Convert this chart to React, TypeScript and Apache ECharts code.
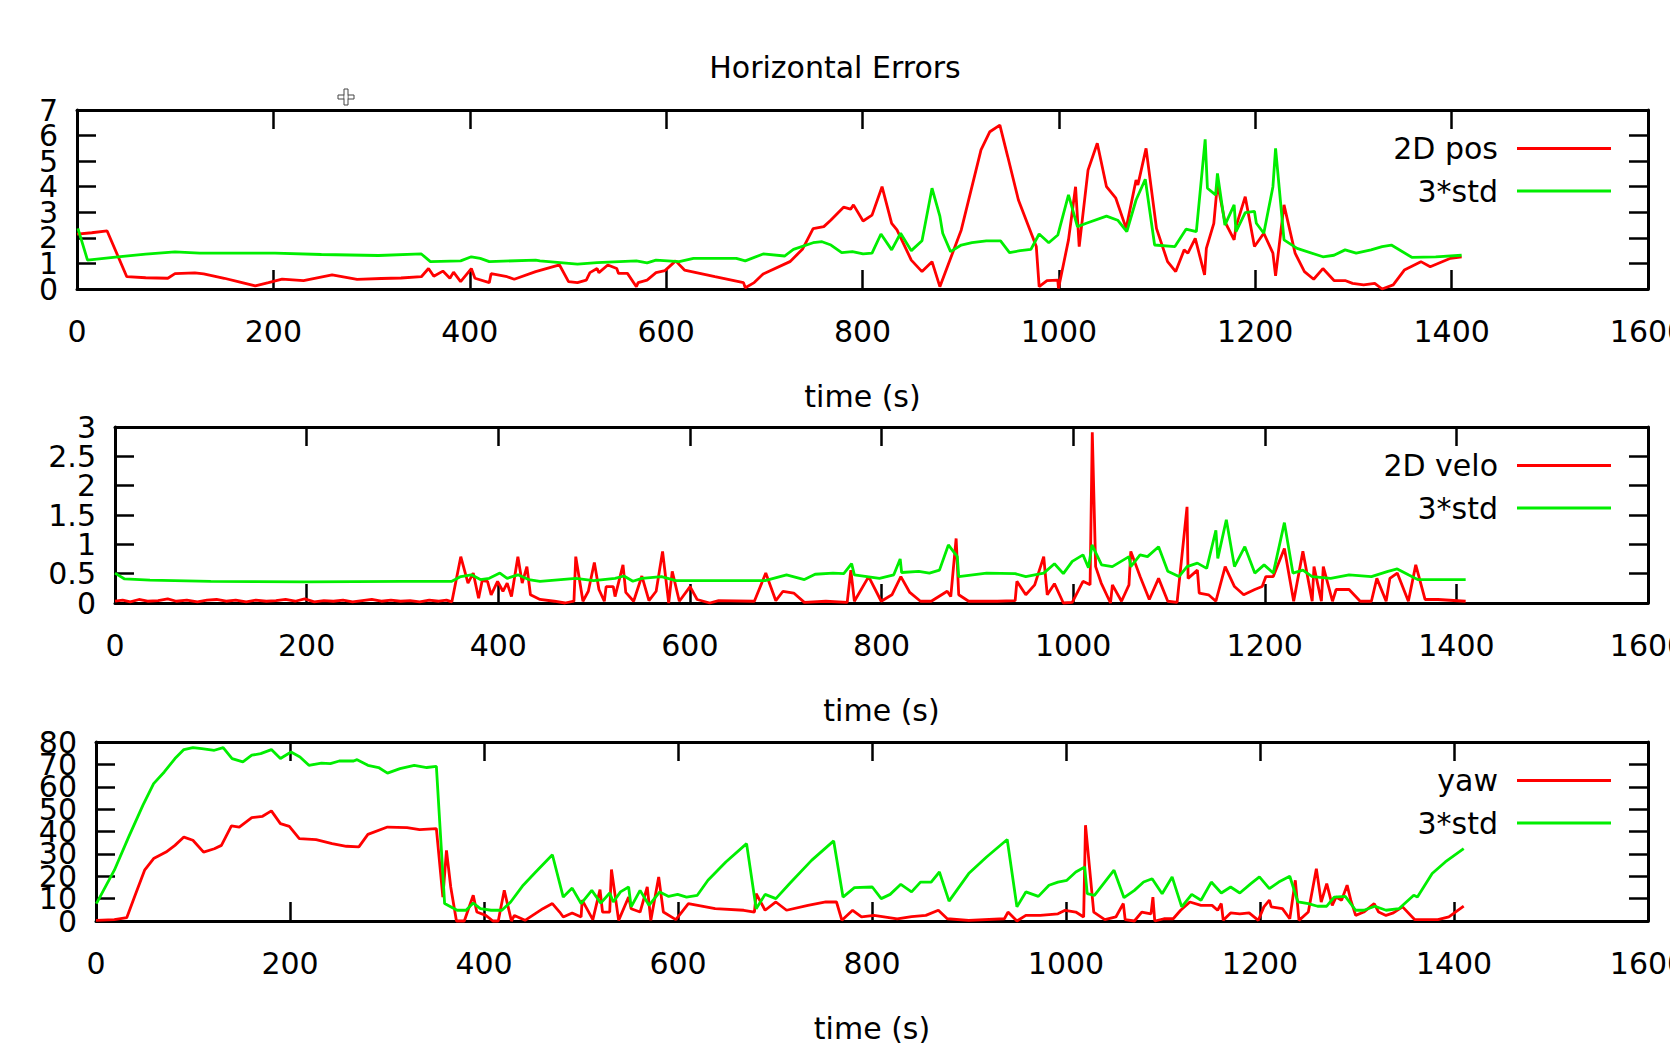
import React, { useEffect, useRef } from "react";
import * as echarts from "echarts";

const FONT = "DejaVu Sans";
const RED = "#ff0000";
const GREEN = "#00ee00";

const titleText = "Horizontal Errors";
const xAxisName = "time (s)";
const xMin = 0;
const xMax = 1600;
const xStep = 200;

const panelNames = ["2D pos", "2D velo", "yaw"];
const stdName = "3*std";
const yMaxes = [7, 3, 80];
const ySteps = [1, 0.5, 10];
const posTicks = [0, 1, 2, 3, 4, 5, 6, 7];
const veloTicks = [0, 0.5, 1, 1.5, 2, 2.5, 3];
const yawTicks = [0, 10, 20, 30, 40, 50, 60, 70, 80];
const yTickLists = [posTicks, veloTicks, yawTicks];

// Panel 1: 2D position error and 3*std
const posErr: number[][] = [
  [0, 2.15], [15, 2.2], [30.7, 2.27], [50.7, 0.48], [70, 0.44], [92.5, 0.42], [99.8, 0.6], [120, 0.63], [129, 0.59],
  [150, 0.42], [165, 0.28], [181.6, 0.12], [195, 0.25], [208.9, 0.39], [230.7, 0.33], [259.8, 0.55], [285.3, 0.38],
  [310, 0.41], [330, 0.43], [350.7, 0.48], [358, 0.8], [363.4, 0.5], [372.6, 0.7], [379.8, 0.42], [383.5, 0.66],
  [390.7, 0.29], [401.6, 0.8], [405.3, 0.42], [419.9, 0.25], [421.7, 0.6], [438, 0.48], [445.3, 0.38], [467.1, 0.68],
  [491.4, 0.94], [500.6, 0.29], [509.7, 0.25], [518.7, 0.35], [522.4, 0.64], [529.7, 0.8], [531.5, 0.64], [540.6, 0.94],
  [549.7, 0.8], [551.5, 0.61], [560.6, 0.61], [569.7, 0.09], [571.5, 0.25], [580.6, 0.35], [589.7, 0.64], [598.8, 0.72],
  [609.7, 1.1], [618.7, 0.74], [649.7, 0.48], [678.8, 0.25], [680.6, 0.05], [689.7, 0.25], [698.8, 0.59], [726.1, 1.07],
  [738.8, 1.55], [749.7, 2.36], [760.6, 2.44], [767.9, 2.7], [780.7, 3.2], [787.9, 3.12], [790.8, 3.29], [800.6, 2.66],
  [809.7, 2.89], [819.9, 4.0], [829.7, 2.57], [835.1, 2.31], [849.7, 1.13], [860.6, 0.68], [870.8, 1.07], [878.8, 0.09],
  [900.6, 2.31], [920.7, 5.44], [929.7, 6.15], [939.9, 6.41], [947.9, 5.18], [958.8, 3.48], [977, 1.66], [979.9, 0.09],
  [987.9, 0.33], [998.9, 0.35], [999.6, 0.02], [1009.8, 1.92], [1017, 4.0], [1020.7, 1.66], [1029.7, 4.65], [1039.1, 5.7],
  [1048.5, 4.0], [1058, 3.55], [1068.5, 2.37], [1078.6, 4.26], [1080.5, 4.07], [1088.8, 5.5], [1099.4, 2.37], [1110.7, 1.07],
  [1119, 0.68], [1127.6, 1.53], [1131.4, 1.4], [1138.9, 1.98], [1148.4, 0.55], [1150.2, 1.59], [1157.8, 2.57], [1161.5, 4.13],
  [1169.1, 2.63], [1178.5, 1.92], [1180.4, 2.44], [1189.8, 3.61], [1199.2, 1.66], [1208.7, 2.18], [1218, 1.4], [1220.7, 0.51],
  [1229.3, 3.29], [1240.6, 1.4], [1250.1, 0.68], [1259.5, 0.38], [1268.9, 0.8], [1280.2, 0.33], [1291.5, 0.33], [1299.1, 0.22],
  [1310.4, 0.16], [1321.7, 0.22], [1329.2, 0.0], [1340.5, 0.16], [1351.8, 0.74], [1368.7, 1.07], [1378.2, 0.87],
  [1398.9, 1.2], [1410.2, 1.26],
];

const posStd: number[][] = [
  [0.9, 2.37], [10.7, 1.13], [41.6, 1.26], [70, 1.36], [99.8, 1.45], [125, 1.4], [183.4, 1.4], [201.6, 1.4], [248.9, 1.35],
  [307.1, 1.31], [350.7, 1.37], [359.9, 1.07], [390.7, 1.1], [401.6, 1.26], [410.7, 1.2], [419.9, 1.07], [467.1, 1.13],
  [471.5, 1.1], [509.7, 0.97], [529.7, 1.03], [569.7, 1.1], [580.6, 1.02], [589.7, 1.13], [613.3, 1.07], [627.9, 1.2],
  [671.5, 1.2], [680.6, 1.1], [698.8, 1.37], [720.6, 1.29], [729.7, 1.55], [749.7, 1.81], [758.8, 1.85], [767.9, 1.72],
  [778.8, 1.42], [789.7, 1.46], [800.6, 1.37], [809.7, 1.4], [818.8, 2.15], [829.7, 1.53], [838.8, 2.18], [849.7, 1.5],
  [860.6, 1.89], [870.8, 3.94], [878.8, 2.85], [881.7, 2.18], [889.7, 1.46], [900.6, 1.72], [911.5, 1.81], [926.1, 1.88],
  [940.6, 1.88], [949.7, 1.42], [960.6, 1.5], [971.5, 1.55], [979.9, 2.15], [989.7, 1.81], [998.9, 2.11], [1009.8, 3.68],
  [1018.9, 2.44], [1028, 2.57], [1048.5, 2.85], [1059.9, 2.69], [1069.2, 2.24], [1078.6, 3.48], [1088, 4.29], [1097.5, 1.72],
  [1118.2, 1.66], [1129.5, 2.34], [1140, 2.24], [1149, 5.85], [1151.3, 3.94], [1159.6, 3.68], [1161.5, 4.52], [1169.1, 2.5],
  [1178.5, 3.29], [1180.4, 2.24], [1189.8, 2.99], [1199.2, 3.04], [1201.1, 2.57], [1208.7, 2.18], [1218, 4.0], [1220.7, 5.5],
  [1229.3, 1.92], [1242.6, 1.59], [1268.9, 1.26], [1280.2, 1.32], [1291.5, 1.53], [1302.8, 1.4], [1317.9, 1.53],
  [1329.2, 1.66], [1338.6, 1.72], [1359.4, 1.24], [1383.8, 1.26], [1410.2, 1.32],
];

// Panel 2: 2D velocity error and 3*std
const veloErr: number[][] = [
  [0, 0.03], [8, 0.05], [16, 0.02], [25, 0.06], [34, 0.03], [45, 0.04], [55, 0.07], [64, 0.03], [75, 0.05], [86, 0.02],
  [96, 0.05], [106, 0.06], [116, 0.03], [126, 0.05], [137, 0.02], [147, 0.05], [158, 0.03], [168, 0.04], [178, 0.06],
  [188, 0.03], [198, 0.07], [208, 0.02], [218, 0.04], [228, 0.03], [238, 0.05], [248, 0.02], [258, 0.04], [268, 0.06],
  [278, 0.03], [288, 0.05], [298, 0.03], [308, 0.04], [318, 0.02], [328, 0.05], [338, 0.03], [346, 0.05], [351.6, 0.02],
  [360.9, 0.79], [368.4, 0.34], [373.9, 0.51], [379.5, 0.08], [383.2, 0.38], [388.8, 0.37], [392.6, 0.14], [399.3, 0.37],
  [404.9, 0.2], [409.3, 0.34], [413.8, 0.11], [420.5, 0.79], [425, 0.34], [429.9, 0.62], [433.6, 0.14], [443.6, 0.06],
  [458.6, 0.03], [469.7, 0], [479, 0.03], [480.9, 0.79], [488.4, 0.03], [494, 0.2], [500.3, 0.69], [505.1, 0.23],
  [510.7, 0.03], [512.6, 0.28], [520, 0.28], [521.9, 0.11], [530.2, 0.65], [533.1, 0.18], [541.3, 0.03], [549.9, 0.46],
  [557.3, 0.04], [564.8, 0.2], [571.5, 0.88], [577.9, 0], [581.6, 0.54], [589, 0.03], [600.2, 0.28], [607.6, 0.06],
  [620.7, 0], [630, 0.04], [667.3, 0.03], [679.2, 0.51], [689.7, 0.04], [697.2, 0.2], [708.4, 0.17], [719.5, 0.01],
  [741.9, 0.03], [764.2, 0.01], [768, 0.56], [771.7, 0.03], [786.6, 0.45], [799.7, 0.03], [810.9, 0.14], [820.2, 0.45],
  [829.5, 0.18], [840.7, 0.03], [851.9, 0.03], [868.6, 0.2], [872.3, 0.11], [877.9, 1.1], [880.6, 0.14], [891, 0.03],
  [920.8, 0.03], [939.5, 0.04], [941.3, 0.37], [950.6, 0.14], [959.9, 0.31], [969.3, 0.79], [973, 0.14], [980.5, 0.33],
  [989.8, 0], [999.1, 0.01], [1010.3, 0.37], [1017.7, 0.31], [1020, 2.91], [1023.5, 0.62], [1029.3, 0.34], [1039, 0],
  [1041, 0.31], [1050.5, 0.03], [1058.3, 0.31], [1060.2, 0.88], [1069.9, 0.45], [1079.5, 0.06], [1089.2, 0.42],
  [1098.8, 0.03], [1108.5, 0.01], [1118.9, 1.64], [1120, 0.42], [1129.7, 0.56], [1131.6, 0.17], [1141.3, 0.14],
  [1149, 0.03], [1158.7, 0.62], [1168.4, 0.28], [1178, 0.14], [1189.6, 0.23], [1197.3, 0.28], [1201.2, 0.45],
  [1208.9, 0.45], [1220.5, 0.93], [1230.2, 0.03], [1239.8, 0.88], [1249.5, 0.03], [1251.4, 0.62], [1259.1, 0.03],
  [1261.1, 0.62], [1270.7, 0.03], [1274.5, 0.23], [1288, 0.23], [1299.6, 0.03], [1311.3, 0.03], [1317, 0.42],
  [1326.7, 0.03], [1330.6, 0.42], [1338.3, 0.51], [1349.9, 0.03], [1357.6, 0.65], [1367.3, 0.06], [1380.8, 0.06],
  [1409.7, 0.03],
];

const veloStd: number[][] = [
  [0, 0.51], [10, 0.41], [36.5, 0.39], [100, 0.37], [200, 0.36], [300, 0.37], [351.6, 0.37], [360.9, 0.45], [372, 0.48],
  [381.3, 0.4], [390.6, 0.42], [401.7, 0.51], [409.3, 0.42], [420.5, 0.48], [431.7, 0.4], [443.6, 0.37], [480.9, 0.42],
  [499.5, 0.38], [521.9, 0.42], [531.2, 0.46], [540.5, 0.37], [549.9, 0.42], [570.4, 0.45], [585.3, 0.38], [611.4, 0.38],
  [678.5, 0.38], [700.9, 0.48], [719.5, 0.4], [730.7, 0.49], [749.4, 0.51], [760.6, 0.5], [768.8, 0.67], [771.7, 0.48],
  [797.9, 0.42], [812.8, 0.48], [819.5, 0.75], [821, 0.52], [838.9, 0.54], [850, 0.51], [860.5, 0.56], [869.8, 0.99],
  [879.1, 0.79], [880.6, 0.45], [909.7, 0.51], [939.5, 0.5], [950.6, 0.45], [969.3, 0.51], [980.5, 0.67], [989.8, 0.5],
  [999.1, 0.71], [1010.3, 0.82], [1016, 0.6], [1019.7, 0.99], [1029.7, 0.65], [1040.9, 0.62], [1058.3, 0.79],
  [1060.2, 0.62], [1069.9, 0.82], [1077.6, 0.79], [1089.2, 0.96], [1098.8, 0.54], [1110.4, 0.45], [1118.9, 0.62],
  [1129.7, 0.68], [1139.4, 0.59], [1149, 1.24], [1151, 0.76], [1159.9, 1.42], [1168.4, 0.62], [1179.2, 0.96],
  [1189.6, 0.51], [1199.3, 0.65], [1208.9, 0.51], [1220.5, 1.37], [1229.4, 0.51], [1239.8, 0.56], [1249.5, 0.45],
  [1268.8, 0.42], [1288, 0.48], [1311.3, 0.45], [1328.6, 0.54], [1338.3, 0.58], [1349.9, 0.48], [1359.6, 0.4],
  [1384.7, 0.4], [1409.7, 0.4],
];

// Panel 3: yaw error and 3*std
const yawErr: number[][] = [
  [0, 0.3], [18.9, 0.6], [31.7, 1.5], [40.9, 12.2], [50.1, 22.7], [59.4, 27.9], [72.2, 30.8], [81.4, 33.8], [90.6, 37.5],
  [99.9, 36.1], [110.9, 30.8], [122, 32.3], [129.3, 33.8], [139.6, 42.5], [147.7, 42], [160.6, 46.2], [171.7, 46.8],
  [180.8, 49.2], [190.1, 43.5], [199.3, 42.3], [209.6, 36.8], [226.9, 36.4], [243.4, 34.6], [258.1, 33.4], [271, 33.1],
  [280.3, 38.7], [300.5, 42], [320.7, 41.7], [333.6, 40.8], [350.9, 41.3], [357.6, 10.7], [361.3, 31.6], [365.7, 15.2],
  [371.6, 0], [379.7, 0], [388.9, 11.5], [392.6, 4], [401.8, 2.5], [409.2, 0], [414.7, 0], [420.9, 13.7], [428.3, 0],
  [431.3, 2.5], [442.3, 0.3], [460.7, 5.5], [470.5, 7.8], [478, 4], [481.7, 1.8], [490.9, 3.6], [500.1, 1.8], [501.2, 9.3],
  [512.2, 0.6], [519.6, 14], [522.2, 4], [529.6, 4], [531.4, 23], [538.8, 0.3], [549.1, 10.7], [551.7, 5.5], [560.9, 4],
  [568.3, 15.2], [572, 0.3], [580.1, 19.7], [584.9, 4], [597.8, 0.6], [610.7, 7.8], [638.3, 5.5], [667.8, 4.8], [678.8, 4],
  [680.6, 12.2], [689.8, 4.8], [700.9, 8.5], [711.9, 4.8], [734, 7], [752.4, 8.5], [763.4, 8.5], [769, 0.3], [780, 4.8],
  [789.2, 1.8], [802.1, 2.5], [826, 1.0], [840.8, 2], [855.5, 2.5], [868.4, 4.8], [877.6, 1], [899.7, 0.3], [936.5, 1],
  [940.2, 4], [949.4, 0], [958.6, 2.5], [973.4, 2.5], [991.7, 3.2], [999.1, 4.8], [1010.1, 4], [1018.2, 1.8], [1020.1, 42.8],
  [1028.6, 4], [1040, 0.6], [1051.4, 1.8], [1059.1, 7.8], [1061, 0.6], [1070.5, 0], [1078.1, 4], [1087.6, 3.2],
  [1089.6, 10.7], [1091.5, 0], [1101, 1], [1110.5, 1], [1118.2, 4.8], [1127.7, 8.5], [1139.2, 7], [1150.6, 7],
  [1156.3, 4.8], [1160.1, 7.8], [1162.1, 0.3], [1169.7, 3.6], [1179.2, 3.2], [1188.8, 3.6], [1198.3, 0.3], [1204, 6.3],
  [1209.7, 9.3], [1211.6, 6.3], [1223.1, 5.5], [1230.7, 1.0], [1236.4, 18.2], [1240.2, 0.3], [1249.8, 4], [1258.1, 23.4],
  [1263.1, 8.5], [1268.8, 16.7], [1274.5, 7], [1278.4, 10.7], [1284.1, 9.3], [1289.8, 16], [1293.6, 9.3], [1298.6, 2.5],
  [1307, 4], [1317.7, 7.8], [1322.3, 4], [1329.9, 2.5], [1337.5, 3.6], [1347, 6.3], [1359.6, 0.6], [1383.3, 0.6],
  [1394.7, 1.8], [1410, 6.6],
];

const yawStd: number[][] = [
  [0.4, 7.8], [18.9, 22.7], [33.6, 37.5], [48.3, 51.7], [59.4, 61.4], [70.4, 66.6], [81.4, 72.6], [90.6, 76.6],
  [99.9, 77.5], [109, 77], [122, 76.3], [131.1, 77.5], [140.3, 72.6], [151.4, 71.1], [160.6, 74.1], [169.8, 74.8],
  [180.8, 76.6], [190.1, 72.6], [201.1, 75.5], [210.3, 73.3], [219.5, 69.6], [232.4, 70.6], [241.6, 70.3], [250.8, 71.5],
  [265.6, 71.5], [269.2, 72.1], [280.3, 69.6], [291.3, 68.6], [300.5, 66.1], [313.4, 68.1], [328.1, 69.6], [341, 68.6],
  [350.9, 69.1], [359.4, 7.8], [372.3, 4.8], [381.5, 4.8], [388.9, 8.0], [396.3, 5.5], [407.3, 4.8], [418.4, 4.8],
  [427.5, 8.5], [440.4, 16], [453.3, 21.9], [470.5, 29.6], [481.7, 10.7], [490.9, 14.7], [500.1, 7.8], [511.1, 13.7],
  [520.4, 8.0], [529.6, 12.5], [533.3, 8.5], [540.7, 13], [549.1, 15.2], [551.7, 6.3], [560.9, 13.7], [570.1, 7.0],
  [581.2, 13], [590.4, 11], [599.6, 11.9], [608.8, 10.7], [619.9, 11.5], [630.9, 18.2], [649.3, 26.4], [670.7, 34.6],
  [680.6, 5.5], [689.8, 11.9], [700.9, 10], [715.6, 17], [737.7, 27.1], [760.5, 35.8], [770.1, 10.7], [781.9, 14.9],
  [800.3, 15.2], [809.5, 10], [818.7, 11.9], [829.7, 16.4], [840.8, 13], [850, 17.4], [861, 17.4], [869.5, 21.9],
  [879.4, 8.9], [899.7, 21.2], [918.1, 28.6], [939.4, 36.4], [949.4, 6.3], [958.6, 13], [971.5, 11], [982.5, 16],
  [991.7, 17.4], [1000.9, 18.2], [1010.1, 21.9], [1019.3, 24.1], [1021.9, 12.2], [1029.3, 11.5], [1049.5, 22.7],
  [1059.8, 10.4], [1070.5, 13.7], [1080, 17.4], [1088.8, 18.9], [1099.1, 12.2], [1109.4, 19.7], [1119.3, 6.3],
  [1129.6, 11.9], [1139.2, 9.3], [1149.8, 17.4], [1160.1, 12.5], [1169.7, 15.2], [1179.2, 12.5], [1190.6, 16.7],
  [1199.4, 19.7], [1209.7, 14.5], [1219.3, 17.4], [1230.7, 20], [1239.1, 8.5], [1249.8, 7.8], [1259.3, 6.6],
  [1268.8, 6.6], [1276.5, 10.7], [1287.9, 11], [1298.6, 4.8], [1307, 4.8], [1318.5, 6.6], [1329.9, 4.8], [1343.2, 5.5],
  [1358.5, 11.5], [1362.3, 10.7], [1377.5, 21.2], [1391, 26.4], [1410, 32.3],
];

const errSeries = [posErr, veloErr, yawErr];
const stdSeries = [posStd, veloStd, yawStd];

// layout (pixels)
const grids = [
  { left: 77, top: 110, width: 1571, height: 179 },
  { left: 115, top: 427, width: 1533, height: 176 },
  { left: 96, top: 742, width: 1552, height: 179 },
];
const legendRowOffsets = [38.5, 81];

function buildOption() {
  const txt = { fontFamily: FONT, fontSize: 30, color: "#000", lineHeight: 30 };
  const axisLine = { show: true, onZero: false, lineStyle: { color: "#000", width: 3 } };
  const axisTick = { show: true, inside: true, length: 19, lineStyle: { color: "#000", width: 2.5 } };
  const plain = (v: number) => String(v);

  const xAxis: any[] = [];
  const yAxis: any[] = [];
  grids.forEach((_, i) => {
    xAxis.push({
      type: "value", gridIndex: i, min: xMin, max: xMax, interval: xStep, position: "bottom",
      name: xAxisName, nameLocation: "middle", nameGap: 92, nameTextStyle: { ...txt },
      axisLine, axisTick,
      axisLabel: { ...txt, margin: 27, showMinLabel: true, showMaxLabel: true, formatter: plain },
      splitLine: { show: false },
    });
  });
  grids.forEach((_, i) => {
    xAxis.push({
      type: "value", gridIndex: i, min: xMin, max: xMax, interval: xStep, position: "top",
      axisLine, axisTick, axisLabel: { show: false }, splitLine: { show: false },
    });
  });

  // y axes: [0..2] main left (line, ticks, even-index labels), [3..5] right mirror, [6..8] left odd-index labels
  const evenTicks = yTickLists.map((l) => l.filter((_, k) => k % 2 === 0));
  const oddTicks = yTickLists.map((l) => l.filter((_, k) => k % 2 === 1));
  grids.forEach((_, i) => {
    yAxis.push({
      type: "value", gridIndex: i, min: 0, max: yMaxes[i], interval: ySteps[i], position: "left",
      axisLine, axisTick,
      axisLabel: { ...txt, margin: 19, customValues: evenTicks[i], formatter: plain },
      splitLine: { show: false },
    });
  });
  grids.forEach((_, i) => {
    yAxis.push({
      type: "value", gridIndex: i, min: 0, max: yMaxes[i], interval: ySteps[i], position: "right",
      axisLine, axisTick, axisLabel: { show: false }, splitLine: { show: false },
    });
  });
  grids.forEach((_, i) => {
    yAxis.push({
      type: "value", gridIndex: i, min: 0, max: yMaxes[i], interval: ySteps[i], position: "left", offset: 0,
      axisLine: { show: false }, axisTick: { show: false },
      axisLabel: { ...txt, margin: 19, customValues: oddTicks[i], formatter: plain },
      splitLine: { show: false },
    });
  });

  const series: any[] = [];
  grids.forEach((_, i) => {
    series.push({
      type: "line", name: panelNames[i], xAxisIndex: i, yAxisIndex: i, data: errSeries[i],
      showSymbol: false, symbol: "none", clip: false, silent: true,
      lineStyle: { color: RED, width: 2.8 }, itemStyle: { color: RED },
    });
    series.push({
      type: "line", name: stdName, xAxisIndex: i, yAxisIndex: i, data: stdSeries[i],
      showSymbol: false, symbol: "none", clip: false, silent: true,
      lineStyle: { color: GREEN, width: 2.8 }, itemStyle: { color: GREEN },
    });
  });

  const legend: any[] = [];
  grids.forEach((g, i) => {
    [panelNames[i], stdName].forEach((nm, k) => {
      legend.push({
        data: [nm], right: 59, top: g.top + legendRowOffsets[k] - 15, orient: "horizontal", align: "right",
        icon: "rect", itemWidth: 94, itemHeight: 3, padding: 0, selectedMode: false,
        textStyle: { ...txt, padding: [0, 14, 0, 0] },
      });
    });
  });

  return {
    animation: false,
    backgroundColor: "#fff",
    textStyle: { fontFamily: FONT },
    title: {
      text: titleText, left: "center", top: 52, padding: 0,
      textStyle: { ...txt, fontWeight: "normal" },
    },
    grid: grids.map((g) => ({ ...g, containLabel: false, outerBoundsMode: "none" })),
    xAxis,
    yAxis,
    legend,
    series,
    graphic: [
      {
        type: "group", x: 346, y: 97, silent: true,
        children: [
          { type: "rect", shape: { x: -8, y: -2, width: 16, height: 4 }, style: { fill: "#fff", stroke: "#444", lineWidth: 1 } },
          { type: "rect", shape: { x: -2, y: -8, width: 4, height: 16 }, style: { fill: "#fff", stroke: "#444", lineWidth: 1 } },
          { type: "rect", shape: { x: -1.5, y: -1.5, width: 3, height: 3 }, style: { fill: "#fff" } },
        ],
      },
    ],
  };
}

export default function App() {
  const ref = useRef<HTMLDivElement>(null);
  useEffect(() => {
    document.body.style.margin = "0";
    if (!ref.current) return;
    const chart = echarts.init(ref.current, null, { renderer: "svg" });
    chart.setOption(buildOption() as any);
    return () => chart.dispose();
  }, []);
  return <div ref={ref} style={{ width: 1670, height: 1046, overflow: "hidden", background: "#fff" }} />;
}
